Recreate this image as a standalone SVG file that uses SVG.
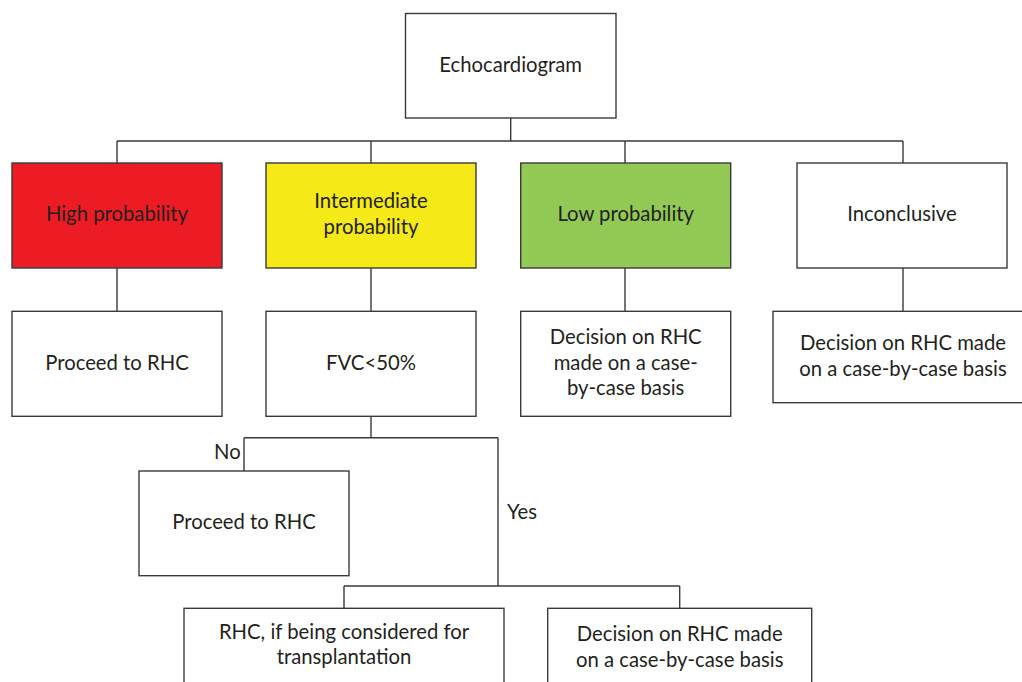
<svg xmlns="http://www.w3.org/2000/svg" width="1022" height="682" viewBox="0 0 1022 682">
<style>
.box{stroke:#3a3a3a;stroke-width:1.4;fill:#fff}
.red{fill:#ed1c24}.yel{fill:#f5e918}.grn{fill:#92c954}
.t{font-family:Lato,"Noto Sans",sans-serif;font-size:20.3px;fill:#231f20;text-anchor:middle}
.l{font-family:Lato,"Noto Sans",sans-serif;font-size:20.3px;fill:#231f20}
.c{stroke:#3a3a3a;stroke-width:1.4;fill:none}
</style>
<rect width="1022" height="682" fill="#fff"/>
<g id="connectors">
<path class="c" d="M510.7 118V141M117 141H903M117 141V163M371 141V163M625 141V163M903 141V163"/>
<path class="c" d="M117 268V311M371 268V311M625 268V311M903 268V311"/>
<path class="c" d="M371 416V437.7M244 437.7H498M244 437.7V471M498 437.7V586M344 586H679.7M344 586V608.3M679.7 586V608.3"/>
<text class="l" x="214" y="459">No</text>
<text class="l" x="507" y="519">Yes</text>
</g>
<g id="echo"><rect class="box" x="405.5" y="13.5" width="210.5" height="104.5"/><text class="t" x="510.7" y="72">Echocardiogram</text></g>
<g id="high"><rect class="box red" x="12" y="163" width="210" height="105"/><text class="t" x="117" y="221">High probability</text></g>
<g id="inter"><rect class="box yel" x="266" y="163" width="210" height="105"/><text class="t" x="371" y="208">Intermediate</text><text class="t" x="371" y="234">probability</text></g>
<g id="low"><rect class="box grn" x="520.7" y="163" width="210" height="105"/><text class="t" x="625.7" y="221">Low probability</text></g>
<g id="inconc"><rect class="box" x="797" y="163" width="210" height="105"/><text class="t" x="902" y="221">Inconclusive</text></g>
<g id="proceed1"><rect class="box" x="12" y="311.3" width="210" height="105"/><text class="t" x="117" y="370">Proceed to RHC</text></g>
<g id="fvc"><rect class="box" x="266" y="311.3" width="210" height="105"/><text class="t" x="371" y="370">FVC&lt;50%</text></g>
<g id="lowdec"><rect class="box" x="520.7" y="311.3" width="210" height="105"/><text class="t" x="625.7" y="344">Decision on RHC</text><text class="t" x="625.7" y="370">made on a case-</text><text class="t" x="625.7" y="395">by-case basis</text></g>
<g id="incdec"><rect class="box" x="773" y="311.3" width="252" height="91.4"/><text class="t" x="903" y="350">Decision on RHC made</text><text class="t" x="903" y="376">on a case-by-case basis</text></g>
<g id="proceed2"><rect class="box" x="139" y="471" width="210" height="104.7"/><text class="t" x="244" y="529">Proceed to RHC</text></g>
<g id="rhctx"><rect class="box" x="184" y="608.3" width="320" height="90"/><text class="t" x="344" y="639">RHC, if being considered for</text><text class="t" x="344" y="664">transplantation</text></g>
<g id="botdec"><rect class="box" x="547.7" y="608.3" width="264" height="90"/><text class="t" x="679.7" y="641">Decision on RHC made</text><text class="t" x="679.7" y="667">on a case-by-case basis</text></g>
</svg>
